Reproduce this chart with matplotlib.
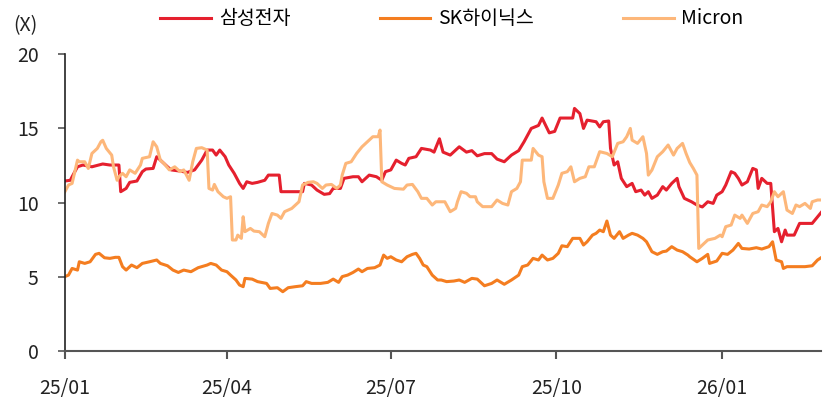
import numpy as np
import pandas as pd
import matplotlib
matplotlib.use("Agg")
import matplotlib.pyplot as plt

plt.rcParams['font.family'] = ['Noto Sans CJK KR', 'DejaVu Sans']

# 데이터: 2025-01-01 기준 경과일, 배수(X)
samsung_days = [0, 3, 4, 7, 10, 15, 21, 25, 30, 31, 34, 36, 40, 43, 45, 49, 51, 54, 57, 59,
                64, 68, 72, 76, 79, 82, 84, 86, 89, 91, 94, 97, 99, 101, 104, 107, 111, 113, 119, 120,
                132, 133, 137, 140, 144, 147, 149, 153, 155, 160, 163, 165, 169, 173, 176, 178, 181, 184, 187, 189,
                191, 195, 198, 203, 205, 208, 210, 214, 219, 223, 226, 229, 233, 237, 240, 244, 248, 252, 255, 259,
                263, 265, 269, 272, 275, 279, 282, 283, 286, 288, 290, 295, 297, 299, 302, 303, 305, 307, 309, 312,
                315, 317, 320, 322, 324, 326, 329, 332, 334, 337, 340, 341, 344, 348, 351, 354, 357, 360, 362, 365,
                367, 370, 372, 374, 376, 379, 382, 384, 385, 387, 390, 392, 394, 396, 398, 400, 401, 405, 408, 415,
                418, 420]
samsung = [11.45, 11.5, 11.74, 12.41, 12.53, 12.41, 12.6, 12.53, 12.53, 10.73, 10.95, 11.36, 11.45, 12.08, 12.26, 12.3, 13.09, 12.75, 12.41, 12.2,
           12.12, 12.03, 12.2, 12.86, 13.54, 13.54, 13.2, 13.54, 13.09, 12.53, 11.97, 11.29, 10.95, 11.4, 11.29, 11.36, 11.5, 11.85, 11.85, 10.73,
           10.73, 11.29, 11.18, 10.84, 10.55, 10.6, 10.95, 10.95, 11.63, 11.74, 11.74, 11.4, 11.85, 11.74, 11.5, 12.08, 12.2, 12.86, 12.64, 12.53,
           12.98, 13.09, 13.65, 13.54, 13.4, 14.3, 13.4, 13.2, 13.76, 13.4, 13.5, 13.15, 13.3, 13.3, 12.93, 12.75, 13.2, 13.5, 14.1, 15.0,
           15.2, 15.7, 14.7, 14.8, 15.7, 15.7, 15.7, 16.35, 16.0, 15.0, 15.56, 15.45, 15.1, 15.45, 15.5, 13.65, 12.53, 12.75, 11.63, 11.07,
           11.29, 10.73, 10.84, 10.5, 10.73, 10.28, 10.5, 11.07, 10.84, 11.29, 11.63, 11.07, 10.28, 10.05, 9.83, 9.7, 10.05, 9.94, 10.5, 10.73,
           11.18, 12.08, 11.97, 11.63, 11.18, 11.4, 12.3, 12.2, 10.95, 11.63, 11.29, 11.29, 8.03, 8.25, 7.35, 8.14, 7.8, 7.8, 8.59, 8.59,
           9.04, 9.33]

hynix_days = [0, 2, 4, 7, 8, 11, 14, 17, 19, 22, 25, 28, 30, 32, 34, 37, 40, 43, 47, 51,
              53, 57, 60, 63, 66, 70, 74, 79, 81, 84, 87, 90, 92, 95, 97, 99, 100, 104, 107, 112,
              114, 118, 121, 124, 128, 132, 134, 137, 142, 146, 149, 152, 154, 157, 160, 163, 165, 168, 172, 175,
              177, 179, 181, 184, 187, 190, 193, 195, 197, 199, 201, 204, 207, 209, 212, 216, 219, 222, 226, 229,
              233, 237, 240, 244, 248, 252, 254, 257, 260, 263, 265, 268, 271, 274, 276, 279, 282, 286, 288, 290,
              293, 295, 297, 299, 301, 303, 305, 308, 310, 313, 315, 318, 321, 323, 326, 329, 332, 334, 337, 340,
              343, 346, 347, 351, 354, 357, 358, 362, 365, 368, 371, 374, 376, 380, 384, 387, 391, 393, 395, 398,
              399, 401, 405, 411, 415, 418, 420]
hynix = [5.0, 5.1, 5.55, 5.44, 6.0, 5.89, 6.0, 6.5, 6.57, 6.27, 6.23, 6.3, 6.3, 5.67, 5.44, 5.78, 5.6, 5.89, 6.0, 6.12,
         5.89, 5.73, 5.44, 5.28, 5.44, 5.33, 5.6, 5.78, 5.89, 5.78, 5.44, 5.33, 5.1, 4.77, 4.43, 4.32, 4.88, 4.83, 4.66, 4.54,
         4.2, 4.25, 3.98, 4.25, 4.32, 4.38, 4.66, 4.54, 4.54, 4.61, 4.83, 4.61, 5.0, 5.1, 5.28, 5.51, 5.33, 5.55, 5.6, 5.78,
         6.45, 6.23, 6.34, 6.12, 6.0, 6.34, 6.5, 6.57, 6.23, 5.78, 5.67, 5.1, 4.77, 4.77, 4.66, 4.7, 4.77, 4.61, 4.88, 4.83,
         4.38, 4.54, 4.77, 4.48, 4.77, 5.1, 5.67, 5.78, 6.23, 6.12, 6.45, 6.12, 6.23, 6.57, 7.08, 7.02, 7.58, 7.58, 7.13, 7.35,
         7.8, 7.92, 8.14, 8.03, 8.75, 7.8, 7.58, 8.03, 7.58, 7.8, 7.92, 7.8, 7.58, 7.35, 6.68, 6.5, 6.68, 6.72, 7.02, 6.79,
         6.68, 6.45, 6.34, 6.0, 6.23, 6.5, 5.89, 6.05, 6.57, 6.5, 6.79, 7.24, 6.9, 6.86, 6.95, 6.86, 7.02, 7.35, 6.12, 6.0,
         5.55, 5.67, 5.67, 5.67, 5.73, 6.12, 6.28]

micron_days = [0, 2, 4, 7, 8, 11, 13, 15, 18, 20, 21, 23, 26, 27, 29, 30, 32, 34, 36, 39,
               42, 43, 47, 49, 51, 53, 55, 58, 61, 64, 66, 69, 71, 73, 76, 79, 80, 82, 83, 85,
               88, 90, 92, 93, 95, 96, 98, 99, 100, 103, 105, 108, 111, 113, 115, 118, 120, 122, 124, 126,
               129, 130, 132, 135, 138, 140, 143, 145, 148, 151, 153, 154, 156, 159, 162, 165, 168, 171, 174, 175,
               176, 179, 183, 188, 190, 193, 196, 198, 201, 204, 206, 211, 214, 217, 218, 220, 223, 225, 228, 229,
               232, 237, 240, 243, 246, 248, 251, 253, 254, 259, 260, 263, 265, 266, 268, 271, 274, 276, 279, 281,
               283, 286, 289, 291, 294, 297, 301, 304, 307, 310, 312, 314, 315, 318, 321, 323, 324, 326, 329, 332,
               335, 338, 340, 343, 345, 347, 349, 351, 352, 354, 357, 361, 364, 365, 367, 370, 372, 375, 376, 379,
               382, 385, 387, 390, 392, 394, 396, 399, 401, 404, 406, 408, 411, 414, 415, 418, 420]
micron = [10.73, 11.18, 11.29, 12.86, 12.75, 12.75, 12.3, 13.31, 13.65, 14.1, 14.2, 13.65, 13.2, 12.41, 11.5, 11.74, 11.97, 11.74, 12.2, 11.97,
          12.53, 12.98, 13.09, 14.1, 13.76, 12.86, 12.64, 12.2, 12.41, 12.08, 12.2, 11.5, 12.75, 13.65, 13.7, 13.54, 10.95, 10.84, 11.22, 10.73,
          10.39, 10.28, 10.39, 7.47, 7.47, 7.8, 7.58, 9.04, 8.03, 8.25, 8.07, 8.03, 7.69, 8.59, 9.26, 9.15, 8.93, 9.38, 9.49, 9.6,
          9.94, 10.05, 11.18, 11.36, 11.4, 11.29, 10.95, 11.18, 11.22, 10.95, 11.18, 11.85, 12.64, 12.75, 13.31, 13.76, 14.1, 14.44, 14.44, 14.89,
          11.4, 11.18, 10.95, 10.9, 11.18, 11.22, 10.73, 10.28, 10.28, 9.83, 10.05, 10.05, 9.38, 9.6, 10.05, 10.73, 10.62, 10.39, 10.39, 10.05,
          9.72, 9.72, 10.17, 9.94, 9.83, 10.73, 10.95, 11.4, 12.86, 12.86, 13.65, 13.2, 13.09, 11.4, 10.28, 10.28, 11.18, 11.97, 12.08, 12.41,
          11.4, 11.63, 11.74, 12.41, 12.41, 13.43, 13.31, 13.09, 13.99, 14.1, 14.44, 15.0, 14.21, 13.99, 14.44, 13.31, 11.85, 12.19, 13.09, 13.43,
          13.88, 13.2, 13.65, 13.99, 13.3, 12.7, 12.3, 11.85, 6.9, 7.13, 7.47, 7.58, 7.8, 7.69, 8.37, 8.48, 9.15, 8.93, 9.15, 8.59,
          9.26, 9.38, 9.83, 9.72, 10.05, 10.73, 10.39, 10.73, 9.49, 9.26, 9.83, 9.72, 9.94, 9.6, 10.05, 10.17, 10.17]

tick_dates = ['2025-01-01', '2025-04-01', '2025-07-01', '2025-10-01', '2026-01-01']
tick_labels = ['25/01', '25/04', '25/07', '25/10', '26/01']

start = pd.Timestamp('2025-01-01')
def to_dates(days):
    return start + pd.to_timedelta(days, unit='D')

fig = plt.figure(figsize=(8.32, 4.01), dpi=100)
ax = fig.add_axes([0.078, 0.1255, 0.909, 0.739])

ax.plot(to_dates(samsung_days), samsung, color='#E5202E', lw=2.2, label='삼성전자')
ax.plot(to_dates(hynix_days), hynix, color='#F47D20', lw=2.2, label='SK하이닉스')
ax.plot(to_dates(micron_days), micron, color='#FDB77A', lw=2.2, label='Micron')

ax.set_xlim(start, start + pd.Timedelta(days=420))
ax.set_ylim(0, 20)
ax.set_yticks([0, 5, 10, 15, 20])
ax.set_xticks(pd.to_datetime(tick_dates))
ax.set_xticklabels(tick_labels)

ax.spines['top'].set_visible(False)
ax.spines['right'].set_visible(False)
ax.spines['left'].set_color('#222222')
ax.spines['bottom'].set_color('#555555')
ax.spines['left'].set_linewidth(1.2)
ax.spines['bottom'].set_linewidth(1.5)
ax.tick_params(axis='y', length=5, width=1.2, color='#555555', pad=14, labelsize=14, labelcolor='#222222')
ax.tick_params(axis='x', length=6, width=1.5, color='#555555', pad=14, labelsize=14, labelcolor='#222222')

fig.text(13 / 832, 1 - 26 / 401, '(X)', fontsize=14, color='#222222', ha='left', va='center')

fig.legend(loc='center', bbox_to_anchor=(452 / 832, 1 - 19 / 401), ncol=3, frameon=False,
           fontsize=14, handlelength=2.6, handletextpad=0.4, columnspacing=4.6)

plt.savefig('out.png', dpi=100)
